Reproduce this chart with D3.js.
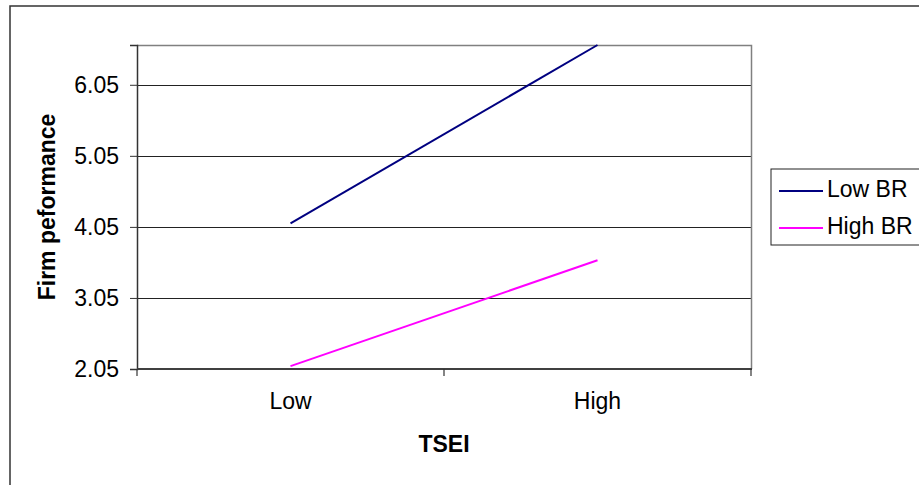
<!DOCTYPE html>
<html>
<head>
<meta charset="utf-8">
<script src="https://cdn.jsdelivr.net/npm/d3@7"></script>
<style>
  html, body { margin: 0; padding: 0; background: #fff; }
  svg { display: block; font-family: "Liberation Sans", Arial, sans-serif; }
</style>
</head>
<body>
<svg id="chart" width="919" height="485"></svg>
<script>
// Interaction plot: firm performance by TSEI level for low / high BR
const categories = ["Low", "High"];
const lowBR = [4.10, 6.61];
const highBR = [2.09, 3.58];
const seriesNames = ["Low BR", "High BR"];
const seriesColors = ["#000080", "#FF00FF"];
const yTicks = [2.05, 3.05, 4.05, 5.05, 6.05];
const yDomain = [2.05, 6.61];

const svg = d3.select("#chart");
const plot = { left: 137, right: 751, top: 45, bottom: 369 };

// Outer frame (runs past the right and bottom edges)
svg.append("rect")
  .attr("x", 10).attr("y", 6)
  .attr("width", 940).attr("height", 500)
  .attr("fill", "none").attr("stroke", "#333").attr("stroke-width", 1.5);

const x = d3.scaleBand().domain(categories).range([plot.left, plot.right]).padding(0);
const y = d3.scaleLinear().domain(yDomain).range([plot.bottom, plot.top]);

// Gridlines
svg.append("g")
  .selectAll("line")
  .data(yTicks.slice(1))
  .join("line")
  .attr("x1", plot.left).attr("x2", plot.right)
  .attr("y1", d => Math.round(y(d)) + 0.5).attr("y2", d => Math.round(y(d)) + 0.5)
  .attr("stroke", "#222").attr("stroke-width", 1);

// Plot area border (top and right)
svg.append("path")
  .attr("d", `M${plot.left},${plot.top + 0.5}H${plot.right + 0.5}V${plot.bottom}`)
  .attr("fill", "none").attr("stroke", "#808080").attr("stroke-width", 1.5);

// Y axis
const yAxis = svg.append("g")
  .attr("transform", `translate(${plot.left},0)`)
  .call(d3.axisLeft(y).tickValues(yTicks).tickSize(7).tickPadding(11).tickFormat(d3.format(".2f")));
yAxis.select(".domain").attr("stroke", "#333").attr("stroke-width", 1.5);
yAxis.selectAll(".tick line").attr("stroke", "#333");
yAxis.selectAll(".tick text")
  .attr("font-size", 23).attr("fill", "#000")
  .attr("font-family", "Liberation Sans, Arial, sans-serif");

// X axis: category labels
const xAxis = svg.append("g")
  .attr("transform", `translate(0,${plot.bottom})`)
  .call(d3.axisBottom(x).tickSize(0).tickPadding(24));
xAxis.select(".domain").remove();
xAxis.selectAll(".tick text")
  .attr("font-size", 23).attr("fill", "#000")
  .attr("font-family", "Liberation Sans, Arial, sans-serif");

// X axis line and category boundary ticks
svg.append("line")
  .attr("x1", plot.left).attr("x2", plot.right + 1)
  .attr("y1", plot.bottom).attr("y2", plot.bottom)
  .attr("stroke", "#404040").attr("stroke-width", 2.2);
const bounds = categories.map(c => x(c)).concat([x.range()[1]]);
svg.append("g")
  .selectAll("line")
  .data(bounds)
  .join("line")
  .attr("x1", d => d).attr("x2", d => d)
  .attr("y1", plot.bottom).attr("y2", plot.bottom + 7)
  .attr("stroke", "#333").attr("stroke-width", 1.2);

// Series lines
const line = d3.line()
  .x((d, i) => x(categories[i]) + x.bandwidth() / 2)
  .y(d => y(d));
[lowBR, highBR].forEach((vals, i) => {
  svg.append("path")
    .datum(vals)
    .attr("d", line)
    .attr("fill", "none")
    .attr("stroke", seriesColors[i])
    .attr("stroke-width", 2);
});

// Axis titles
svg.append("text")
  .attr("x", (plot.left + plot.right) / 2).attr("y", 452)
  .attr("text-anchor", "middle")
  .attr("font-size", 23).attr("font-weight", "bold")
  .text("TSEI");
svg.append("text")
  .attr("transform", `translate(55,${(plot.top + plot.bottom) / 2}) rotate(-90)`)
  .attr("text-anchor", "middle")
  .attr("font-size", 23).attr("font-weight", "bold")
  .text("Firm peformance");

// Legend
const legend = svg.append("g");
legend.append("rect")
  .attr("x", 771).attr("y", 169)
  .attr("width", 170).attr("height", 76)
  .attr("fill", "#fff").attr("stroke", "#222").attr("stroke-width", 1);
const legendY = [191, 228];
seriesNames.forEach((name, i) => {
  legend.append("line")
    .attr("x1", 779).attr("x2", 823)
    .attr("y1", legendY[i]).attr("y2", legendY[i])
    .attr("stroke", seriesColors[i]).attr("stroke-width", 2);
  legend.append("text")
    .attr("x", 827).attr("y", legendY[i] + 6)
    .attr("font-size", 23)
    .text(name);
});
</script>
</body>
</html>
